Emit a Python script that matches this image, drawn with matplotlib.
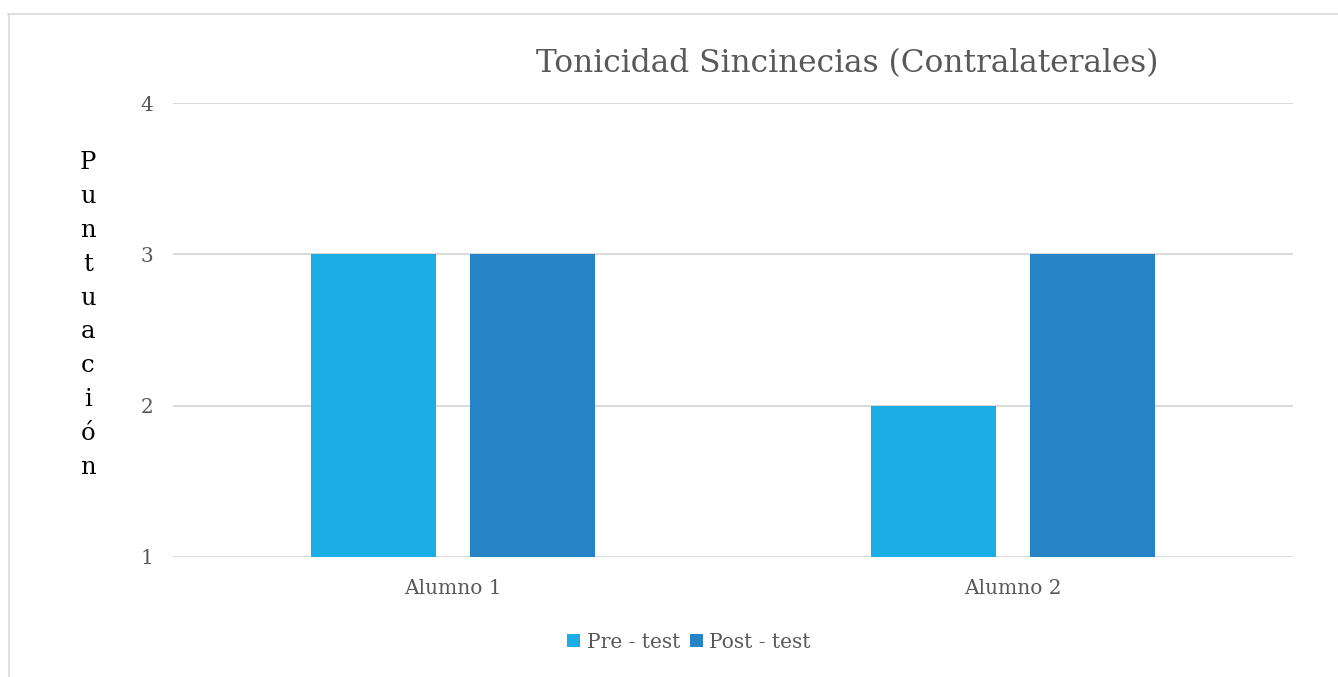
import matplotlib
matplotlib.use("Agg")
import matplotlib.pyplot as plt
import numpy as np
from matplotlib.lines import Line2D
from matplotlib.patches import Patch

categories = ["Alumno 1", "Alumno 2"]
pre_test = [3, 2]
post_test = [3, 3]
series_names = ["Pre - test", "Post - test"]
y_ticks = [1, 2, 3, 4]

PRE_COLOR = "#1CADE4"
POST_COLOR = "#2683C6"
TEXT_COLOR = "#595959"
GRID_COLOR = "#D9D9D9"
BASE = 1

plt.rcParams["font.family"] = ["DejaVu Serif"]

W, H = 1338, 677
fig = plt.figure(figsize=(W / 100, H / 100), dpi=100)
ax = fig.add_axes([173 / W, 1 - 557 / H, (1293 - 173) / W, (557 - 103) / H])

x = np.arange(len(categories))
width = 0.223
offset = 0.142
ax.bar(x - offset, np.array(pre_test) - BASE, width, bottom=BASE, color=PRE_COLOR, zorder=3)
ax.bar(x + offset, np.array(post_test) - BASE, width, bottom=BASE, color=POST_COLOR, zorder=3)

ax.set_xlim(-0.5, len(categories) - 0.5)
ax.set_ylim(y_ticks[0], y_ticks[-1])
ax.set_yticks(y_ticks)
ax.set_xticks(x)
ax.set_xticklabels(categories)
ax.tick_params(axis="both", length=0, labelsize=14.5, colors=TEXT_COLOR)
ax.tick_params(axis="x", pad=16)
ax.tick_params(axis="y", pad=14)
ax.grid(axis="y", color=GRID_COLOR, linewidth=1.4, zorder=0)
for s in ax.spines.values():
    s.set_visible(False)

fig.text(847 / W, 1 - 64 / H, "Tonicidad Sincinecias (Contralaterales)",
         ha="center", va="center", fontsize=22.5, color=TEXT_COLOR)

fig.text(88 / W, 1 - 315 / H, "\n".join("Puntuación"), ha="center", va="center",
         fontsize=17.5, color="black", linespacing=1.6)

handles = [Patch(facecolor=PRE_COLOR), Patch(facecolor=POST_COLOR)]
fig.legend(handles, series_names, loc="center", bbox_to_anchor=(689 / W, 1 - 642 / H),
           ncol=2, frameon=False, fontsize=14.5, handlelength=0.65, handleheight=0.65,
           handletextpad=0.3, columnspacing=0.5, labelcolor=TEXT_COLOR)

# outer border (top and left edges visible)
fig.add_artist(Line2D([8 / W, 1], [1 - 14 / H, 1 - 14 / H], color=GRID_COLOR, lw=1.2))
fig.add_artist(Line2D([9 / W, 9 / W], [0, 1 - 14 / H], color=GRID_COLOR, lw=1.2))

fig.savefig("out.png", dpi=100)
